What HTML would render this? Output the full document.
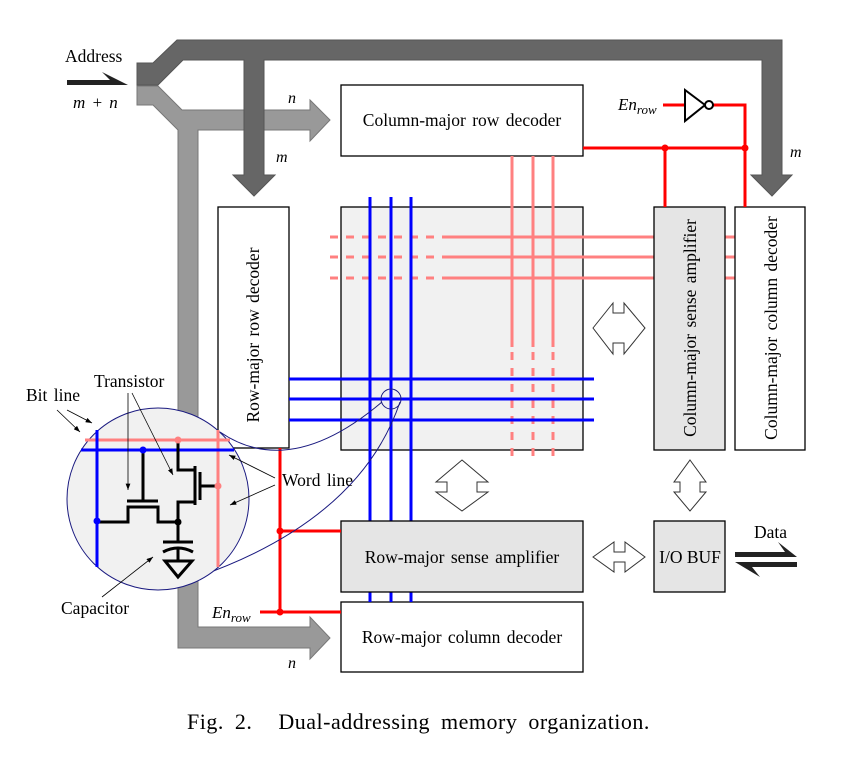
<!DOCTYPE html>
<html><head><meta charset="utf-8"><style>
html,body{margin:0;padding:0;background:#fff;}
svg{display:block;}
text{font-family:"Liberation Serif",serif;fill:#000;word-spacing:2px;}
</style></head><body>
<svg width="844" height="766" viewBox="0 0 844 766" xmlns="http://www.w3.org/2000/svg">
<polygon points="137,86 158,86 182,110 310,110 310,100 330,120 310,141 310,130 198,130 198,627 310,627 310,617 330,638 310,659 310,648 178,648 178,130 153,105 137,105" fill="#999" stroke="#777" stroke-width="1"/>
<polygon points="137,63 153,63 177,40 782,40 782,175 792,175 772,196 751,175 762,175 762,60 264,60 264,175 275,175 254,196 233,175 244,175 244,60 183,60 158,85 137,85" fill="#666" stroke="#555" stroke-width="1"/>
<polygon points="67,80 110,80 102,72 128,85 67,85" fill="#222"/>
<text x="65" y="62" font-size="17.5">Address</text>
<text x="73" y="108" font-size="17" font-style="italic">m + n</text>
<text x="288" y="103" font-size="16" font-style="italic">n</text>
<text x="276" y="162" font-size="16" font-style="italic">m</text>
<text x="790" y="157" font-size="16" font-style="italic">m</text>
<text x="288" y="668" font-size="16" font-style="italic">n</text>

<rect x="341" y="85" width="242" height="71" fill="#fff" stroke="#000" stroke-width="1.3"/>
<text x="462" y="126" font-size="17.5" text-anchor="middle">Column-major row decoder</text>
<rect x="218" y="207" width="71" height="241" fill="#fff" stroke="#000" stroke-width="1.3"/>
<text transform="translate(259,335) rotate(-90)" font-size="17.5" text-anchor="middle">Row-major row decoder</text>
<rect x="341" y="207" width="242" height="243" fill="#f1f1f1" stroke="#000" stroke-width="1.3"/>

<g stroke="#ff8080" stroke-width="3">
<line x1="330" y1="237" x2="443" y2="237" stroke-dasharray="8,8"/>
<line x1="330" y1="257" x2="443" y2="257" stroke-dasharray="8,8"/>
<line x1="330" y1="278" x2="443" y2="278" stroke-dasharray="8,8"/>
<line x1="443" y1="237" x2="735" y2="237"/>
<line x1="443" y1="257" x2="735" y2="257"/>
<line x1="443" y1="278" x2="735" y2="278"/>
<line x1="512" y1="156" x2="512" y2="347"/>
<line x1="533" y1="156" x2="533" y2="347"/>
<line x1="553" y1="156" x2="553" y2="347"/>
<line x1="512" y1="352" x2="512" y2="462" stroke-dasharray="8,8"/>
<line x1="533" y1="352" x2="533" y2="462" stroke-dasharray="8,8"/>
<line x1="553" y1="352" x2="553" y2="462" stroke-dasharray="8,8"/>
</g>

<rect x="654" y="207" width="71" height="243" fill="#e5e5e5" stroke="#000" stroke-width="1.3"/>
<text transform="translate(696,328) rotate(-90)" font-size="17.5" text-anchor="middle">Column-major sense amplifier</text>
<rect x="735" y="207" width="70" height="243" fill="#fff" stroke="#000" stroke-width="1.3"/>
<text transform="translate(777,328) rotate(-90)" font-size="17.5" text-anchor="middle">Column-major column decoder</text>

<rect x="654" y="521" width="71" height="71" fill="#e5e5e5" stroke="#000" stroke-width="1.3"/>
<text x="690" y="563" font-size="17.5" text-anchor="middle" style="word-spacing:0">I/O BUF</text>
<rect x="341" y="602" width="242" height="70" fill="#fff" stroke="#000" stroke-width="1.3"/>
<text x="462" y="643" font-size="17.5" text-anchor="middle">Row-major column decoder</text>

<g stroke="#0000ff" stroke-width="3">
<line x1="370" y1="197" x2="370" y2="602"/>
<line x1="391" y1="197" x2="391" y2="602"/>
<line x1="411" y1="197" x2="411" y2="602"/>
<line x1="289" y1="379" x2="594" y2="379"/>
<line x1="289" y1="399" x2="594" y2="399"/>
<line x1="289" y1="420" x2="594" y2="420"/>
</g>
<rect x="341" y="521" width="242" height="71" fill="#e5e5e5" stroke="#000" stroke-width="1.3"/>
<text x="462" y="563" font-size="17.5" text-anchor="middle">Row-major sense amplifier</text>

<g stroke="#ff0000" stroke-width="3" fill="none">
<line x1="583" y1="148" x2="745" y2="148"/>
<line x1="665" y1="148" x2="665" y2="207"/>
<polyline points="713,105 745,105 745,207"/>
<line x1="663" y1="105" x2="685" y2="105"/>
<line x1="280" y1="448" x2="280" y2="612"/>
<line x1="280" y1="531" x2="341" y2="531"/>
<line x1="260" y1="612" x2="341" y2="612"/>
</g>
<g fill="#ff0000">
<circle cx="665" cy="148" r="3.5"/><circle cx="745" cy="148" r="3.5"/>
<circle cx="280" cy="531" r="3.5"/><circle cx="280" cy="612" r="3.5"/>
</g>
<polygon points="685,90 685,121 705,105" fill="#fff" stroke="#000" stroke-width="2"/>
<circle cx="709" cy="105" r="4" fill="#fff" stroke="#000" stroke-width="2"/>
<text x="618" y="110" font-size="17" font-style="italic">En<tspan font-size="13" dy="4">row</tspan></text>
<text x="212" y="618" font-size="17" font-style="italic">En<tspan font-size="13" dy="4">row</tspan></text>

<g fill="#fff" stroke="#333" stroke-width="1">
<polygon points="593,328 613,303 613,313 624,313 624,303 645,328 624,354 624,343 613,343 613,354"/>
<polygon points="462,460 488,482 477,482 477,492 488,492 462,511 436,492 447,492 447,482 436,482"/>
<polygon points="690,460 706,482 700,482 700,492 706,492 690,511 674,492 680,492 680,482 674,482"/>
<polygon points="593,557 614,542 614,552 625,552 625,542 645,557 625,572 625,562 614,562 614,572"/>
</g>

<polygon points="735,552 785,552 778,542 797,557 735,557" fill="#222"/>
<polygon points="735,562 797,562 797,567 752,567 760,577" fill="#222"/>
<text x="754" y="538" font-size="17.5">Data</text>

<circle cx="391" cy="399" r="10" fill="none" stroke="#1a1a80" stroke-width="1"/>
<path d="M220,432 Q290,480 382,402" fill="none" stroke="#1a1a80" stroke-width="1"/>
<path d="M197,577 Q360,520 400,402" fill="none" stroke="#1a1a80" stroke-width="1"/>
<circle cx="158" cy="499" r="91" fill="#f1f1f1" stroke="#1a1a80" stroke-width="1"/>
<g stroke="#ff8080" stroke-width="3">
<line x1="85" y1="440" x2="230" y2="440"/>
<line x1="218" y1="430" x2="218" y2="567"/>
</g>
<g stroke="#0000ff" stroke-width="3">
<line x1="81" y1="450" x2="234" y2="450"/>
<line x1="97" y1="430" x2="97" y2="567"/>
</g>
<g stroke="#000" stroke-width="3" fill="none">
<line x1="143" y1="450" x2="143" y2="501"/>
<line x1="127" y1="501" x2="158" y2="501"/>
<polyline points="97,522 128,522 128,507 158,507 158,522 178,522"/>
<polyline points="178,440 178,470 195,470"/>
<line x1="195" y1="466" x2="195" y2="505"/>
<line x1="200" y1="472" x2="200" y2="500"/>
<line x1="200" y1="486" x2="218" y2="486"/>
<polyline points="195,502 178,502 178,542"/>
<line x1="163" y1="542" x2="193" y2="542"/>
<path d="M163,552 Q178,544 193,552"/>
<line x1="178" y1="548" x2="178" y2="561"/>
<polygon points="165,561 192,561 178,577"/>
</g>
<g fill="#0000ff"><circle cx="143" cy="450" r="3.5"/><circle cx="97" cy="521" r="3.5"/></g>
<g fill="#ff8080"><circle cx="178" cy="440" r="3.5"/><circle cx="218" cy="486" r="3.5"/></g>
<circle cx="178" cy="522" r="3.5" fill="#000"/>

<defs><marker id="ah" markerWidth="8" markerHeight="6" refX="8" refY="3" orient="auto"><path d="M0,0 L8,3 L0,6 z" fill="#000"/></marker></defs>
<g stroke="#000" stroke-width="0.8" marker-end="url(#ah)">
<line x1="57" y1="410" x2="80" y2="432"/>
<line x1="67" y1="410" x2="92" y2="423"/>
<line x1="128" y1="393" x2="128" y2="490"/>
<line x1="132" y1="393" x2="173" y2="475"/>
<line x1="275" y1="478" x2="229" y2="455"/>
<line x1="275" y1="485" x2="230" y2="505"/>
<line x1="102" y1="597" x2="153" y2="557"/>
</g>
<text x="26" y="401" font-size="17.5">Bit line</text>
<text x="94" y="387" font-size="17.5">Transistor</text>
<text x="282" y="486" font-size="17.5">Word line</text>
<text x="61" y="614" font-size="17.5">Capacitor</text>

<text x="187" y="729" font-size="22" style="word-spacing:5px;letter-spacing:0.5px">Fig. 2.<tspan dx="26">Dual-addressing memory organization.</tspan></text>
</svg>
</body></html>
